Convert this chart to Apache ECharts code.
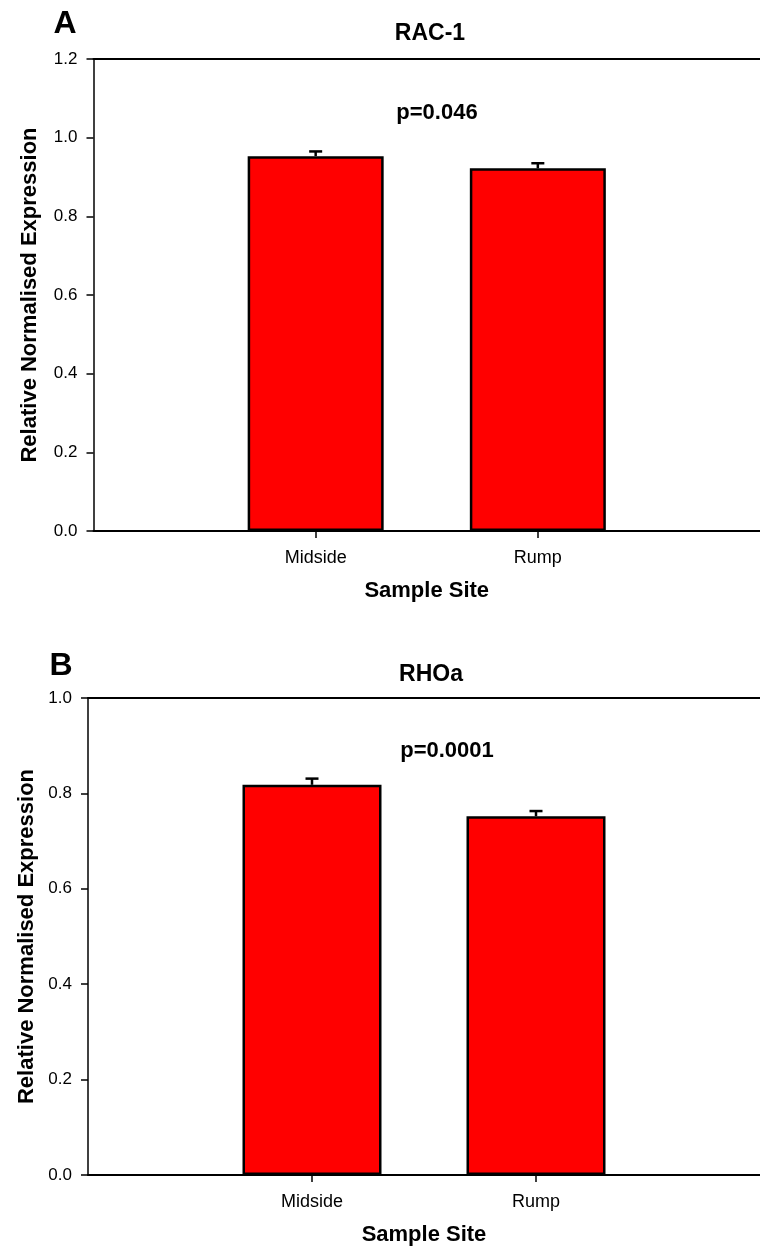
<!DOCTYPE html>
<html>
<head>
<meta charset="utf-8">
<script src="https://cdn.jsdelivr.net/npm/echarts@6/dist/echarts.min.js"></script>
<style>
html,body{margin:0;padding:0;background:#fff;}
#c{width:760px;height:1247px;}
</style>
</head>
<body>
<div id="c"></div>
<script>
// ---- data ----
const categories = ['Midside', 'Rump'];
const racMeans = [0.953, 0.922];
const racErrors = [0.012, 0.013];
const rhoMeans = [0.818, 0.752];
const rhoErrors = [0.013, 0.011];
const racTicks = [0, 0.2, 0.4, 0.6, 0.8, 1.0, 1.2];
const rhoTicks = [0, 0.2, 0.4, 0.6, 0.8, 1.0];
const panelTitles = ['RAC-1', 'RHOa'];
const panelLetters = ['A', 'B'];
const pValues = ['p=0.046', 'p=0.0001'];
const xName = 'Sample Site';
const yName = 'Relative Normalised Expression';

const FONT = '"Liberation Sans", Arial, Helvetica, sans-serif';
const axisCats = [''].concat(categories, ['']);
const pad = arr => [null].concat(arr, [null]);

const chart = echarts.init(document.getElementById('c'), null, {renderer: 'canvas'});

function xAxisMain(gridIndex) {
  return {
    type: 'category', gridIndex, data: axisCats, boundaryGap: false,
    name: xName, nameLocation: 'middle', nameGap: 49,
    nameTextStyle: {fontFamily: FONT, fontSize: 22, fontWeight: 'bold', color: '#000'},
    axisLine: {lineStyle: {color: '#000', width: 2}},
    axisTick: {show: true, length: 7, lineStyle: {color: '#000', width: 1.5},
               interval: (i) => i > 0 && i <= categories.length},
    axisLabel: {fontFamily: FONT, fontSize: 18, color: '#000', margin: 18,
                interval: (i) => i > 0 && i <= categories.length},
    splitLine: {show: false}
  };
}
function xAxisTop(gridIndex) {
  return {
    type: 'category', gridIndex, data: axisCats, position: 'top', boundaryGap: false,
    axisLine: {lineStyle: {color: '#000', width: 2}},
    axisTick: {show: false}, axisLabel: {show: false}, splitLine: {show: false}
  };
}
function yAxis(gridIndex, ticks, gap) {
  return {
    type: 'value', gridIndex, min: ticks[0], max: ticks[ticks.length - 1], interval: 0.2,
    name: yName, nameLocation: 'middle', nameGap: gap,
    nameTextStyle: {fontFamily: FONT, fontSize: 22, fontWeight: 'bold', color: '#000'},
    axisLine: {show: true, lineStyle: {color: '#000', width: 1.5}},
    axisTick: {show: true, length: 7, lineStyle: {color: '#000', width: 1.5}},
    axisLabel: {fontFamily: FONT, fontSize: 17, color: '#000', margin: 16,
                formatter: v => v.toFixed(1)},
    splitLine: {show: false}
  };
}
function bars(idx, means, width) {
  return {
    type: 'bar', xAxisIndex: idx * 2, yAxisIndex: idx, data: pad(means),
    barWidth: width,
    itemStyle: {color: '#ff0000', borderColor: '#000', borderWidth: 2.5},
    z: 2
  };
}
function errs(idx, means, errors) {
  const data = means.map((m, i) => [i + 1, m, m + errors[i]]);
  return {
    type: 'custom', xAxisIndex: idx * 2, yAxisIndex: idx, data, z: 1,
    renderItem: (params, api) => {
      const x = api.value(0);
      const p0 = api.coord([x, api.value(1)]);
      const p1 = api.coord([x, api.value(2)]);
      const hw = 6.5;
      const st = {stroke: '#000', lineWidth: 2.5};
      return {type: 'group', children: [
        {type: 'line', shape: {x1: p0[0], y1: p0[1], x2: p1[0], y2: p1[1]}, style: st},
        {type: 'line', shape: {x1: p1[0] - hw, y1: p1[1], x2: p1[0] + hw, y2: p1[1]}, style: st}
      ]};
    }
  };
}
function txt(text, x, y, size) {
  return {type: 'text', x, y, style: {text, textAlign: 'center', textVerticalAlign: 'middle',
          font: 'bold ' + size + 'px ' + FONT, fill: '#000'}};
}

chart.setOption({
  animation: false,
  backgroundColor: '#fff',
  grid: [
    {left: 93.5, top: 59, width: 673.5, height: 472},
    {left: 88, top: 698, width: 687, height: 479}
  ],
  xAxis: [xAxisMain(0), xAxisTop(0), xAxisMain(1), xAxisTop(1)],
  yAxis: [yAxis(0, racTicks, 53), yAxis(1, rhoTicks, 50)],
  series: [
    bars(0, racMeans, 136), errs(0, racMeans, racErrors),
    {...bars(1, rhoMeans, 139), xAxisIndex: 2}, {...errs(1, rhoMeans, rhoErrors), xAxisIndex: 2}
  ],
  graphic: [
    txt(panelLetters[0], 65, 24, 32),
    txt(panelTitles[0], 430, 34, 23),
    txt(pValues[0], 437, 113, 22),
    txt(panelLetters[1], 61, 666, 32),
    txt(panelTitles[1], 431, 675, 23),
    txt(pValues[1], 447, 751, 22)
  ]
});
</script>
</body>
</html>
